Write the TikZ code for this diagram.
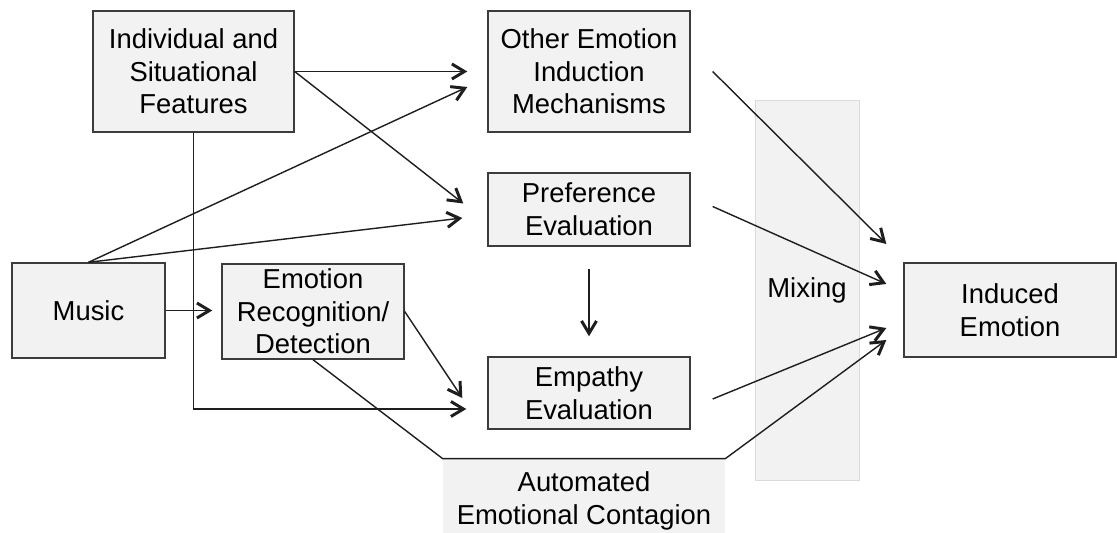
\documentclass[tikz,border=0pt]{standalone}
\usepackage{fontspec}
\setmainfont{Liberation Sans}
\usepackage{tikz}
\usetikzlibrary{
    arrows.meta,
    calc
}

\definecolor{boxfill}{RGB}{242,242,242}
\definecolor{boxline}{RGB}{60,60,60}
\definecolor{wire}{RGB}{30,30,30}

\tikzset{
  box/.style={draw=boxline, line width=0.8pt, fill=boxfill, align=center,
    inner sep=0pt, font=\fontsize{15.6pt}{18.6pt}\selectfont},
  band/.style={fill=boxfill, inner sep=0pt, align=center,
    font=\fontsize{15.6pt}{18.6pt}\selectfont},
  arr/.style={draw=wire, line width=0.8pt,
    -{Straight Barb[length=0.25cm,width=0.3cm,line width=1.7pt]}},
  wire/.style={draw=wire, line width=0.8pt}
}

\begin{document}
\begin{tikzpicture}[x=0.02cm,y=-0.02cm]

\useasboundingbox (0,0) rectangle (1117,533);

% Mixing band
\node[band, draw=boxfill!80!gray, minimum width=2.08cm, minimum height=7.6cm] (mixing) at (807,290) {Mixing};

% Automated contagion region
\node[band, minimum width=5.64cm, minimum height=1.68cm] (cont) at (584,501) {Automated\\Emotional Contagion};

% Boxes
\node[box, minimum width=4.02cm, minimum height=2.42cm] (feat) at (193.5,71.5) {Individual and\\Situational\\Features};
\node[box, minimum width=4.04cm, minimum height=2.42cm] (other) at (589,71.5) {Other Emotion\\Induction\\Mechanisms};
\node[box, minimum width=4.04cm, minimum height=1.46cm] (pref) at (589,209.5) {Preference\\Evaluation};
\node[box, minimum width=3.06cm, minimum height=1.9cm] (music) at (88.5,310.5) {Music};
\node[box, minimum width=3.64cm, minimum height=1.9cm] (recog) at (313,311.5) {Emotion\\Recognition/\\Detection};
\node[box, minimum width=4.04cm, minimum height=1.44cm] (empathy) at (589,393) {Empathy\\Evaluation};
\node[box, minimum width=4.24cm, minimum height=1.88cm] (induced) at (1010,310) {Induced\\Emotion};

% Arrows into the middle column
\draw[arr, shorten >=0.4cm] (feat.east) -- (other.west);
\draw[arr] (feat.east) -- ($(pref.west)+(-24,-6)$);
\draw[arr] (music.north) -- ($(other.west)+(-20,15.5)$);
\draw[arr] (music.north) -- ($(pref.west)+(-25,8.5)$);
\draw[arr] (feat.south) |- ($(empathy.west)+(-21,16)$);
\draw[arr, shorten >=0.18cm] (music.east) -- (music.east -| recog.west);
\draw[arr] (recog.east) -- ($(empathy.west)+(-25,5)$);
\draw[arr, shorten <=0.44cm, shorten >=0.4cm] (pref.south) -- (empathy.north);

% Arrows into induced emotion
\draw[arr] ($(other.east)+(22,0)$) -- ($(induced.west)+(-17,-66)$);
\draw[arr] ($(pref.east)+(22,-3)$) -- ($(induced.west)+(-17,-26)$);
\draw[arr] ($(empathy.east)+(22,6)$) -- ($(induced.west)+(-17,18)$);
\draw[arr] (recog.south) -- (cont.north west) -- (cont.north east) -- ($(induced.west)+(-17,30)$);

\end{tikzpicture}
\end{document}
